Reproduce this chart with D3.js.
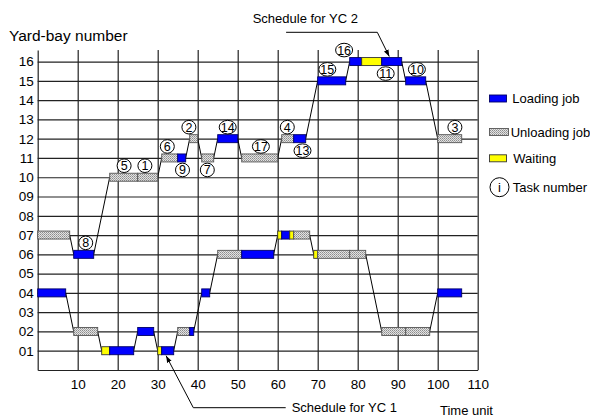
<!DOCTYPE html>
<html>
<head>
<meta charset="utf-8">
<script src="https://cdn.jsdelivr.net/npm/d3@7/dist/d3.min.js"></script>
<style>
  body { margin: 0; background: #fff; }
  svg { font-family: Arial, "Liberation Sans", sans-serif; }
</style>
</head>
<body>
<div id="chart"></div>
<script>
// ---- data ----
var xTicks = [10, 20, 30, 40, 50, 60, 70, 80, 90, 100, 110];
var bays = d3.range(1, 17);
var bayLabels = bays.map(function(d){ return (d < 10 ? "0" : "") + d; });

// [start, end, bay, kind]  kind: L = loading, U = unloading, W = waiting
var yc1Jobs = [
  [0, 7, 4, "L"], [9, 15, 2, "U"], [16, 18, 1, "W"], [18, 24, 1, "L"],
  [25, 29, 2, "L"], [30, 31, 1, "W"], [31, 34, 1, "L"], [35, 38, 2, "U"],
  [38, 39, 2, "L"], [41, 43, 4, "L"], [45, 51, 6, "U"], [51, 59, 6, "L"],
  [60, 61, 7, "W"], [61, 63, 7, "L"], [63, 64, 7, "W"], [64, 68, 7, "U"],
  [69, 70, 6, "W"], [70, 78, 6, "U"], [78, 82, 6, "U"], [86, 92, 2, "U"],
  [92, 98, 2, "U"], [100, 106, 4, "L"]
];
var yc2Jobs = [
  [0, 8, 7, "U"], [9, 14, 6, "L"], [18, 25, 10, "U"], [25, 30, 10, "U"],
  [31, 35, 11, "U"], [35, 37, 11, "L"], [38, 40, 12, "U"], [41, 44, 11, "U"],
  [45, 50, 12, "L"], [51, 60, 11, "U"], [61, 64, 12, "U"], [64, 67, 12, "L"],
  [70, 77, 15, "L"], [78, 81, 16, "L"], [81, 86, 16, "W"], [86, 91, 16, "L"],
  [92, 97, 15, "L"], [100, 106, 12, "U"]
];

// [task number, time, bay, side]
var taskLabels = [
  [8, 12, 6, "up"], [5, 21.6, 10, "up"], [1, 26.8, 10, "up"], [6, 32.4, 11, "up"],
  [9, 36.2, 11, "down"], [2, 37.8, 12, "up"], [7, 42.4, 11, "down"], [14, 47.5, 12, "up"],
  [17, 55.8, 11, "up"], [4, 62.4, 12, "up"], [13, 66.2, 12, "down"], [15, 72.4, 15, "up"],
  [16, 76.6, 16, "up"], [11, 87, 16, "down"], [10, 94.8, 15, "up"], [3, 104.3, 12, "up"]
];

var legendNames = ["Loading job", "Unloading job", "Waiting", "Task number"];

// ---- setup ----
var W = 590, H = 417;
var svg = d3.select("#chart").append("svg")
    .attr("width", W)
    .attr("height", H);

var x = d3.scaleLinear().domain([0, 110]).range([37.7, 477.7]);
var y = d3.scaleLinear().domain([0, 16.6]).range([370, 50]);

var defs = svg.append("defs");
var pat = defs.append("pattern")
    .attr("id", "hatch")
    .attr("width", 2).attr("height", 2)
    .attr("patternUnits", "userSpaceOnUse");
pat.append("rect").attr("width", 2).attr("height", 2).attr("fill", "#e2e2e2");
pat.append("rect").attr("width", 1).attr("height", 1).attr("fill", "#8c8c8c");
pat.append("rect").attr("x", 1).attr("y", 1).attr("width", 1).attr("height", 1).attr("fill", "#a8a8a8");

defs.append("marker")
    .attr("id", "arrow")
    .attr("viewBox", "0 0 10 10")
    .attr("refX", 10).attr("refY", 5)
    .attr("markerWidth", 7).attr("markerHeight", 7)
    .attr("orient", "auto")
  .append("path")
    .attr("d", "M0,1.5 L10,5 L0,8.5 Z")
    .attr("fill", "#000");

var fills = { L: "#0000ff", U: "url(#hatch)", W: "#ffff00" };
var strokes = { L: "#000066", U: "#555", W: "#333" };

// ---- axes + grid ----
var yAxis = svg.append("g")
    .attr("transform", "translate(" + x(0) + ",0)")
    .call(d3.axisLeft(y).tickValues(bays)
        .tickFormat(function(d, i){ return bayLabels[i]; })
        .tickSize(-(x(110) - x(0))).tickSizeOuter(0).tickPadding(4));

var xAxis = svg.append("g")
    .attr("transform", "translate(0," + y(0) + ")")
    .call(d3.axisBottom(x).tickValues(xTicks)
        .tickSize(-(y(0) - y(16.6))).tickSizeOuter(0).tickPadding(9));

svg.selectAll(".tick line, .domain")
    .attr("stroke", "#222")
    .attr("stroke-width", 1.2);
svg.selectAll(".tick text")
    .attr("font-size", "13.5px")
    .attr("font-family", "Arial, 'Liberation Sans', sans-serif")
    .attr("fill", "#000");

svg.append("text")
    .attr("x", 9).attr("y", 41)
    .attr("font-size", "15.5px")
    .text("Yard-bay number");

svg.append("text")
    .attr("x", 440).attr("y", 415)
    .attr("font-size", "13px")
    .text("Time unit");

// ---- schedules ----
function drawSchedule(jobs) {
  var g = svg.append("g");
  // connectors between consecutive jobs
  for (var i = 0; i < jobs.length - 1; i++) {
    var a = jobs[i], b = jobs[i + 1];
    if (a[1] === b[0] && a[2] === b[2]) continue;
    g.append("line")
      .attr("x1", x(a[1])).attr("y1", y(a[2]))
      .attr("x2", x(b[0])).attr("y2", y(b[2]))
      .attr("stroke", "#000")
      .attr("stroke-width", 1);
  }
  g.selectAll("rect.job")
    .data(jobs)
    .enter().append("rect")
    .attr("class", "job")
    .attr("x", function(d){ return x(d[0]); })
    .attr("y", function(d){ return y(d[2]) - 4; })
    .attr("width", function(d){ return x(d[1]) - x(d[0]); })
    .attr("height", 8)
    .attr("fill", function(d){ return fills[d[3]]; })
    .attr("stroke", function(d){ return strokes[d[3]]; })
    .attr("stroke-width", 0.9);
}
drawSchedule(yc1Jobs);
drawSchedule(yc2Jobs);

// ---- task number bubbles ----
var tl = svg.selectAll("g.task")
    .data(taskLabels)
    .enter().append("g")
    .attr("class", "task")
    .attr("transform", function(d){
      var cy = y(d[2]) + (d[3] === "up" ? -11.5 : 12);
      return "translate(" + x(d[1]) + "," + cy + ")";
    });
tl.append("ellipse")
    .attr("rx", function(d){ return d[0] > 9 ? 8.5 : 7; })
    .attr("ry", 6.8)
    .attr("fill", "#fff")
    .attr("stroke", "#000")
    .attr("stroke-width", 1);
tl.append("text")
    .attr("text-anchor", "middle")
    .attr("dy", "0.36em")
    .attr("font-size", "12.5px")
    .text(function(d){ return d[0]; });

// ---- callouts ----
svg.append("path")
    .attr("d", "M" + x(62.1) + ",32.3 H" + x(84.9) + " L" + x(87.9) + "," + (y(16) - 5))
    .attr("fill", "none")
    .attr("stroke", "#000")
    .attr("stroke-width", 1)
    .attr("marker-end", "url(#arrow)");
svg.append("text")
    .attr("x", 252.7).attr("y", 22.7)
    .attr("font-size", "13px")
    .text("Schedule for YC 2");

svg.append("path")
    .attr("d", "M" + x(62) + ",407.7 H" + x(38.9) + " L" + x(32.1) + "," + (y(1) + 5))
    .attr("fill", "none")
    .attr("stroke", "#000")
    .attr("stroke-width", 1)
    .attr("marker-end", "url(#arrow)");
svg.append("text")
    .attr("x", 291.7).attr("y", 411.5)
    .attr("font-size", "13px")
    .text("Schedule for YC 1");

// ---- legend ----
var lg = svg.append("g");
var legendRows = [
  { kind: "L", y: 98.5, tx: 512.3 },
  { kind: "U", y: 132, tx: 510.7 },
  { kind: "W", y: 158.3, tx: 513.3 }
];
legendRows.forEach(function(r, i){
  lg.append("rect")
    .attr("x", 489.5).attr("y", r.y - 3.5)
    .attr("width", r.kind === "U" ? 19 : 17).attr("height", 7)
    .attr("fill", fills[r.kind])
    .attr("stroke", strokes[r.kind])
    .attr("stroke-width", 0.9);
  lg.append("text")
    .attr("x", r.tx).attr("y", r.y + 4.8)
    .attr("font-size", "13px")
    .text(legendNames[i]);
});
lg.append("ellipse")
    .attr("cx", 499.5).attr("cy", 187.2)
    .attr("rx", 9.5).attr("ry", 9.5)
    .attr("fill", "#fff").attr("stroke", "#000");
lg.append("text")
    .attr("x", 499.5).attr("y", 187.2)
    .attr("dy", "0.36em")
    .attr("text-anchor", "middle")
    .attr("font-size", "13px")
    .text("i");
lg.append("text")
    .attr("x", 512.7).attr("y", 192)
    .attr("font-size", "13px")
    .text(legendNames[3]);
</script>
</body>
</html>
